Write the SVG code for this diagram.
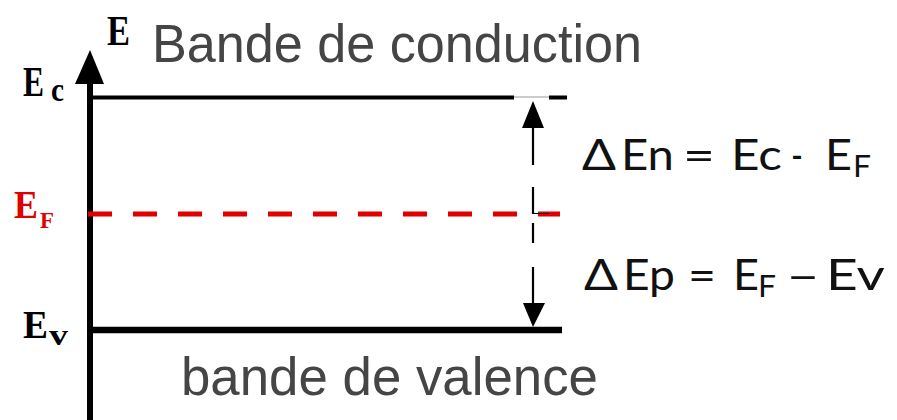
<svg xmlns="http://www.w3.org/2000/svg" width="897" height="420" viewBox="0 0 897 420">
<style>
.lbl{font-family:"Liberation Serif","Times New Roman",serif;font-weight:bold;fill:#000}
.red{fill:#e00000}
.band{font-family:"Liberation Sans",Arial,sans-serif;fill:#454545}
.eq{font-family:Lato,"Open Sans",sans-serif;fill:#111;font-size:43px}
.sub{font-family:Lato,"Open Sans",sans-serif;fill:#111;font-size:31px}
.lvl{stroke:#000;fill:none}
.cn{stroke:#000;fill:none;stroke-width:2.2}
</style>
<rect width="897" height="420" fill="#fff"/>
<g id="axis">
<line x1="90" y1="420" x2="90" y2="78" stroke="#000" stroke-width="6"/>
<polygon points="90,50 75,84 104,84" fill="#000"/>
<text class="lbl" x="107" y="45" font-size="42" textLength="23" lengthAdjust="spacingAndGlyphs">E</text>
</g>
<g id="level-Ec">
<line class="lvl" x1="92" y1="97.5" x2="514" y2="97.5" stroke-width="4"/>
<line x1="514" y1="97" x2="549" y2="97" stroke="#999" stroke-width="1"/>
<line class="lvl" x1="549" y1="97.5" x2="567" y2="97.5" stroke-width="4"/>
<text class="lbl" x="23" y="96" font-size="43" textLength="21" lengthAdjust="spacingAndGlyphs">E</text>
<text class="lbl" x="51" y="101" font-size="34" textLength="13" lengthAdjust="spacingAndGlyphs">c</text>
</g>
<g id="level-EF">
<line x1="88" y1="214" x2="560" y2="214" stroke="#e00000" stroke-width="5" stroke-dasharray="24 21"/>
<text class="lbl red" x="14" y="218" font-size="40" textLength="24" lengthAdjust="spacingAndGlyphs">E</text>
<text class="lbl red" x="40" y="228" font-size="23" textLength="14" lengthAdjust="spacingAndGlyphs">F</text>
</g>
<g id="level-Ev">
<line class="lvl" x1="92" y1="330" x2="562" y2="330" stroke-width="6.5"/>
<text class="lbl" x="23" y="338" font-size="40" textLength="25" lengthAdjust="spacingAndGlyphs">E</text>
<text class="lbl" x="49" y="345" font-size="30" textLength="19" lengthAdjust="spacingAndGlyphs">v</text>
</g>
<g id="band-conduction">
<text class="band" x="152" y="62" font-size="53" textLength="490" lengthAdjust="spacingAndGlyphs">Bande de conduction</text>
</g>
<g id="band-valence">
<text class="band" x="181" y="395" font-size="53" textLength="417" lengthAdjust="spacingAndGlyphs">bande de valence</text>
</g>
<g id="eq-n">
<text class="eq" x="582" y="170" textLength="34" lengthAdjust="spacingAndGlyphs">Δ</text>
<text class="eq" x="621" y="170" textLength="53" lengthAdjust="spacingAndGlyphs">En</text>
<text class="eq" x="683" y="170" textLength="32" lengthAdjust="spacingAndGlyphs">=</text>
<text class="eq" x="731" y="170" textLength="51" lengthAdjust="spacingAndGlyphs">Ec</text>
<text class="eq" x="791" y="170" textLength="12" lengthAdjust="spacingAndGlyphs">-</text>
<text class="eq" x="825" y="170" textLength="27" lengthAdjust="spacingAndGlyphs">E</text>
<text class="sub" x="853" y="177" textLength="18" lengthAdjust="spacingAndGlyphs">F</text>
</g>
<g id="eq-p">
<text class="eq" x="584" y="290" textLength="34" lengthAdjust="spacingAndGlyphs">Δ</text>
<text class="eq" x="623" y="290" textLength="52" lengthAdjust="spacingAndGlyphs">Ep</text>
<text class="eq" x="688" y="290" textLength="28" lengthAdjust="spacingAndGlyphs">=</text>
<text class="eq" x="733" y="290" textLength="26" lengthAdjust="spacingAndGlyphs">E</text>
<text class="sub" x="758" y="297" textLength="18" lengthAdjust="spacingAndGlyphs">F</text>
<text class="eq" x="786" y="290" textLength="34" lengthAdjust="spacingAndGlyphs">–</text>
<text class="eq" x="826" y="290" textLength="59" lengthAdjust="spacingAndGlyphs">Ev</text>
</g>
<g id="connectors">
<polygon points="533,101 522,128 544,128" fill="#000"/>
<line class="cn" x1="533" y1="128" x2="533" y2="165"/>
<line class="cn" x1="533" y1="187" x2="533" y2="214"/>
<line x1="533" y1="213.5" x2="549" y2="213.5" stroke="#000" stroke-width="1"/>
<line class="cn" x1="533" y1="223" x2="533" y2="243"/>
<line class="cn" x1="533" y1="267" x2="533" y2="304"/>
<polygon points="523,303 545,303 533,327" fill="#000"/>
</g>
</svg>
